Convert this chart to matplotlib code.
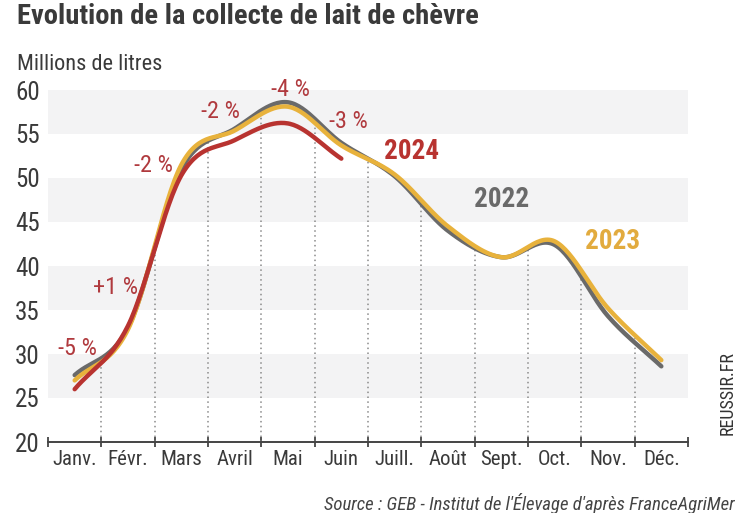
import matplotlib
matplotlib.use("Agg")
import matplotlib.pyplot as plt
from matplotlib import font_manager
import numpy as np

# fonts: a narrow face if there is one, else Roboto
names = {f.name for f in font_manager.fontManager.ttflist}
base, stretch = "Roboto", "normal"
for nm in ("Roboto Condensed", "Liberation Sans Narrow", "Open Sans Condensed"):
    if nm in names:
        base = nm
        break
else:
    if any(f.name == "DejaVu Sans" and "ondensed" in f.fname for f in font_manager.fontManager.ttflist):
        base, stretch = "DejaVu Sans", "condensed"
plt.rcParams['font.family'] = [base, 'DejaVu Sans']
plt.rcParams['font.stretch'] = stretch

months = ["Janv.", "Févr.", "Mars", "Avril", "Mai", "Juin",
          "Juill.", "Août", "Sept.", "Oct.", "Nov.", "Déc."]
v2022 = [27.6, 33.0, 51.0, 55.6, 58.6, 54.0, 50.2, 44.0, 41.0, 42.4, 34.3, 28.6]
v2023 = [27.0, 32.8, 51.5, 55.4, 58.1, 53.7, 50.4, 44.5, 41.0, 42.8, 35.2, 29.3]
v2024 = [26.0, 33.2, 50.3, 54.3, 56.2, 52.2]
evol = ["-5 %", "+1 %", "-2 %", "-2 %", "-4 %", "-3 %"]

GREY = "#6a6a6a"
GOLD = "#e8b23c"
RED = "#b83330"
TXT = "#3a3a3a"


def smooth(y, n=30):
    # cubic hermite through the points, for the rounded look
    y = np.asarray(y, float)
    k = len(y)
    m = np.gradient(y)
    xs, ys = [], []
    for i in range(k - 1):
        t = np.linspace(0, 1, n, endpoint=(i == k - 2))
        h00 = 2*t**3 - 3*t**2 + 1
        h10 = t**3 - 2*t**2 + t
        h01 = -2*t**3 + 3*t**2
        h11 = t**3 - t**2
        xs.append(i + t)
        ys.append(h00*y[i] + h10*m[i] + h01*y[i+1] + h11*m[i+1])
    return np.concatenate(xs), np.concatenate(ys)


narrow = base != "Roboto"
k = 1.0 if narrow else 0.85   # shrink text a bit when the face is wide

fig = plt.figure(figsize=(7.47, 5.13), dpi=100)
ax = fig.add_axes([48/747, 1 - 442/513, 640/747, 352/513])

for lo in (25, 35, 45, 55):
    ax.axhspan(lo, lo + 5, color="#f3f3f4", lw=0, zorder=0)

curves = []
for vals, col, z in ((v2022, GREY, 3), (v2023, GOLD, 4), (v2024, RED, 5)):
    xs, ys = smooth(vals)
    curves.append((xs, ys))
    ax.plot(xs, ys, color=col, lw=3.2, solid_capstyle="round", zorder=z)

# dotted drop lines at month boundaries
for b in np.arange(0.5, 11, 1.0):
    top = max(np.interp(b, xs, ys) for xs, ys in curves if xs[-1] >= b)
    ax.plot([b, b], [20, top], color="#8a8a8a", lw=1.1, ls=(0, (1, 2.2)), zorder=2)

ax.set_xlim(-0.5, 11.5)
ax.set_ylim(20, 60)
for s in ("top", "right", "left"):
    ax.spines[s].set_visible(False)
ax.spines["bottom"].set_color("#444444")
ax.spines["bottom"].set_linewidth(1.4)

ax.set_xticks(np.arange(-0.5, 12, 1.0))
ax.set_xticklabels([])
ax.set_xticks(range(12), minor=True)
ax.set_xticklabels(months, minor=True, fontsize=15 * k, color=TXT)
ax.tick_params(axis="x", which="major", direction="inout", length=7, width=1.3, color="#444444")
ax.tick_params(axis="x", which="minor", length=0, pad=6)

ax.set_yticks(range(20, 61, 5))
ax.tick_params(axis="y", length=0, pad=6, labelsize=18 * k, labelcolor=TXT)

# percentage changes 2024 vs 2023
pos = [(0.06, 30.6), (0.76, 37.6), (1.47, 51.4), (2.73, 57.5), (4.04, 60.1), (5.14, 56.4)]
for (x, y), s in zip(pos, evol):
    ax.text(x, y, s, color="#b03a3e", fontsize=17.5 * k, ha="center", va="center", clip_on=False)

ax.text(6.31, 53.0, "2024", color=RED, fontsize=19.5 * k, fontweight="bold", ha="center", va="center")
ax.text(8.0, 47.5, "2022", color=GREY, fontsize=19.5 * k, fontweight="bold", ha="center", va="center")
ax.text(10.09, 42.8, "2023", color="#e2ab3e", fontsize=19.5 * k, fontweight="bold", ha="center", va="center")

fig.text(17/747, 1 - 17/513, "Evolution de la collecte de lait de chèvre",
         fontsize=20.5 if narrow else 19, fontweight="bold", color=TXT, ha="left", va="center")
fig.text(17/747, 1 - 64/513, "Millions de litres", fontsize=16 * k, color=TXT, ha="left", va="center")
fig.text(735/747, 1 - 503/513, "Source : GEB - Institut de l'Élevage d'après FranceAgriMer",
         fontsize=13.5 * k, style="italic", color="#444444", ha="right", va="center")
fig.text(728/747, 1 - 393/513, "REUSSIR.FR", fontsize=13 * k, color="#333333", rotation=90,
         ha="center", va="center")

fig.savefig("out.png", dpi=100)
